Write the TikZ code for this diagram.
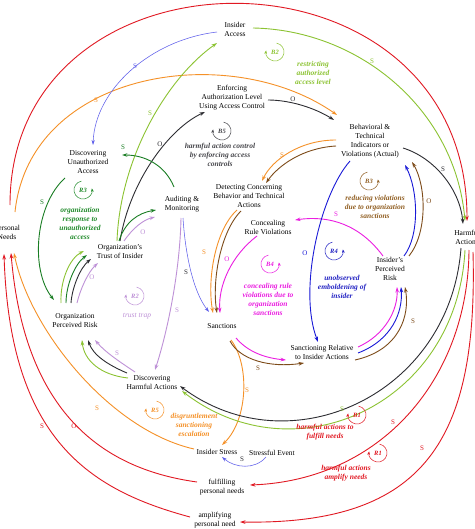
\documentclass[tikz,border=0pt]{standalone}
\usepackage{fontspec}
\setmainfont{Liberation Serif}
\usetikzlibrary{arrows.meta}
\definecolor{cred}{RGB}{225,25,35}
\definecolor{corange}{RGB}{245,145,40}
\definecolor{cbrown}{RGB}{125,75,25}
\definecolor{cbrowntxt}{RGB}{145,95,35}
\definecolor{cgray}{RGB}{45,45,50}
\definecolor{cgraytxt}{RGB}{70,70,75}
\definecolor{clgreen}{RGB}{140,195,50}
\definecolor{cdgreen}{RGB}{25,125,35}
\definecolor{cdgreentxt}{RGB}{35,140,45}
\definecolor{cpurple}{RGB}{190,145,215}
\definecolor{cmag}{RGB}{235,30,225}
\definecolor{cblue}{RGB}{25,25,215}
\definecolor{cbluetxt}{RGB}{35,35,195}
\definecolor{cthinblue}{RGB}{95,95,235}
\tikzset{
  nd/.style={font=\fontsize{7.5}{9}\selectfont, align=center, inner sep=1pt},
  ds/.style={font=\fontsize{7.5}{9}\selectfont\bfseries\itshape, align=center, inner sep=0pt},
  pl/.style={font=\fontsize{7}{8}\selectfont, inner sep=0pt},
  lp/.style={font=\fontsize{6.5}{7}\selectfont\bfseries\itshape, inner sep=0pt},
  ar/.style={line width=0.9pt, -{Stealth[length=5.5pt,width=3.6pt]}},
  tar/.style={line width=0.55pt, -{Stealth[length=5pt,width=3.2pt]}},
  lsym/.style={line width=0.5pt, -{Stealth[length=3.5pt,width=2.8pt]}},
}
\begin{document}
\begin{tikzpicture}[x=1pt,y=-1pt]
\useasboundingbox (0,0) rectangle (474,529);
\clip (0,0) rectangle (474,529);
\fill[white] (0,0) rectangle (474,529);
% ---------- nodes ----------
\node[nd] (acc) at (235,29) {Insider\\Access};
\node[nd] (enf) at (232,98) {Enforcing\\Authorization Level\\Using Access Control};
\node[nd] (beh) at (370,141) {Behavioral \&\\Technical\\Indicators or\\Violations (Actual)};
\node[nd] (dua) at (88,162) {Discovering\\Unauthorized\\Access};
\node[nd] (aud) at (182,204) {Auditing \&\\Monitoring};
\node[nd] (trust) at (120,252) {Organization's\\Trust of Insider};
\node[nd] (det) at (249,196) {Detecting Concerning\\Behavior and Technical\\Actions};
\node[nd] (con) at (268,227) {Concealing\\Rule Violations};
\node[nd] (ipr) at (390,269) {Insider's\\Perceived\\Risk};
\node[nd] (harm) at (467,237) {Harmful\\Actions};
\node[nd] (pn) at (7,232) {Personal\\Needs};
\node[nd] (opr) at (75,321) {Organization\\Perceived Risk};
\node[nd] (san) at (222,326) {Sanctions};
\node[nd] (srel) at (322,352) {Sanctioning Relative\\to Insider Actions};
\node[nd] (dha) at (152,383) {Discovering\\Harmful Actions};
\node[nd] (ist) at (217,452) {Insider Stress};
\node[nd] (se) at (272,453) {Stressful Event};
\node[nd] (fpn) at (222,487) {fulfilling\\personal needs};
\node[nd] (apn) at (215,520) {amplifying\\personal need};
% ---------- red ----------
\draw[ar,cred] ([shift={(3,-27)}]pn.center) .. controls (10,-66) and (467,-66) .. ([shift={(0,-16)}]harm.center);
\draw[ar,cred] ([shift={(2,13)}]harm.center) .. controls (468,380) and (380,480) .. ([shift={(28,-2)}]fpn.center);
\draw[ar,cred] ([shift={(6,15)}]harm.center) .. controls (478,440) and (425,525) .. ([shift={(25,2)}]apn.center);
\draw[ar,cred] ([shift={(-25,-5)}]fpn.center) .. controls (110,470) and (25,420) .. ([shift={(4,21)}]pn.center);
\draw[ar,cred] ([shift={(-25,-3)}]apn.center) .. controls (90,490) and (10,440) .. ([shift={(-3,22)}]pn.center);
% ---------- orange / brown ----------
\draw[ar,corange] ([shift={(-23,-3)}]ist.center) .. controls (110,430) and (30,330) .. ([shift={(7,21)}]pn.center);
\draw[ar,corange] ([shift={(8,-20)}]pn.center) .. controls (30,70) and (230,40) .. ([shift={(-33,-26)}]beh.center);
\draw[ar,corange] ([shift={(-34,-1)}]beh.center) .. controls (300,140) and (272,160) .. ([shift={(13,-15)}]det.center);
\draw[ar,cbrown] ([shift={(-34,5)}]beh.center) .. controls (302,148) and (278,166) .. ([shift={(17,-13)}]det.center);
\draw[ar,corange] ([shift={(-12,14)}]det.center) .. controls (215,230) and (207,280) .. ([shift={(-9,-13)}]san.center);
\draw[ar,cbrown] ([shift={(-8,15)}]det.center) .. controls (220,232) and (212,282) .. ([shift={(-5,-13)}]san.center);
\draw[ar,corange] ([shift={(9,14)}]san.center) .. controls (250,365) and (248,420) .. ([shift={(5,-7)}]ist.center);
\draw[ar,cbrown] ([shift={(8,15)}]san.center) .. controls (240,360) and (270,368) .. ([shift={(-18,11)}]srel.center);
\draw[ar,cmag] ([shift={(14,12)}]san.center) .. controls (248,352) and (265,358) .. ([shift={(-36,8)}]srel.center);
% ---------- magenta / blue ----------
\draw[ar,cmag] ([shift={(-11,9)}]con.center) .. controls (232,255) and (218,285) .. ([shift={(-2,-13)}]san.center);
\draw[tar,cthinblue] ([shift={(1,14)}]aud.center) .. controls (185,250) and (192,290) .. ([shift={(-13,-14)}]san.center);
\draw[ar,cpurple] ([shift={(-1,14)}]aud.center) .. controls (180,270) and (168,330) .. ([shift={(3,-13)}]dha.center);
\draw[ar,cmag] ([shift={(36,-5)}]srel.center) .. controls (385,335) and (398,310) .. ([shift={(7,18)}]ipr.center);
\draw[ar,cblue] ([shift={(36,1)}]srel.center) .. controls (392,340) and (403,312) .. ([shift={(11,18)}]ipr.center);
\draw[ar,cbrown] ([shift={(33,8)}]srel.center) .. controls (400,350) and (410,315) .. ([shift={(15,18)}]ipr.center);
\draw[ar,cblue] ([shift={(14,-13)}]ipr.center) .. controls (420,235) and (418,190) .. ([shift={(35,24)}]beh.center);
\draw[ar,cbrown] ([shift={(19,-13)}]ipr.center) .. controls (428,232) and (426,185) .. ([shift={(42,21)}]beh.center);
\draw[ar,cmag] ([shift={(-7,-13)}]ipr.center) .. controls (360,225) and (330,215) .. ([shift={(27,-7)}]con.center);
\draw[ar,cblue] ([shift={(-20,20)}]beh.center) .. controls (320,195) and (298,290) .. ([shift={(-4,-10)}]srel.center);
% ---------- dark gray / green ----------
\draw[ar,cgray] ([shift={(0,-11)}]trust.center) .. controls (130,180) and (170,128) .. ([shift={(-27,14)}]enf.center);
\draw[ar,cgray] ([shift={(36,2)}]enf.center) .. controls (290,100) and (315,108) .. ([shift={(-36,-21)}]beh.center);
\draw[ar,cgray] ([shift={(33,7)}]beh.center) .. controls (435,158) and (460,190) .. ([shift={(-4,-13)}]harm.center);
\draw[ar,cgray] ([shift={(-6,11)}]harm.center) .. controls (450,395) and (290,468) .. ([shift={(28,3)}]dha.center);
\draw[ar,clgreen] ([shift={(-2,13)}]harm.center) .. controls (457,405) and (295,478) .. ([shift={(30,8)}]dha.center);
\draw[ar,clgreen] ([shift={(-24,-5)}]dha.center) .. controls (100,375) and (84,360) .. ([shift={(7,19)}]opr.center);
\draw[ar,cgray] ([shift={(-25,-10)}]dha.center) .. controls (108,365) and (93,355) .. ([shift={(13,19)}]opr.center);
\draw[ar,cpurple] ([shift={(-17,-11)}]dha.center) .. controls (120,362) and (105,352) .. ([shift={(20,19)}]opr.center);
\draw[ar,clgreen] ([shift={(-14,-18)}]opr.center) .. controls (60,280) and (70,258) .. ([shift={(-36,-1)}]trust.center);
\draw[ar,cdgreen] ([shift={(-9,-18)}]opr.center) .. controls (66,285) and (75,264) .. ([shift={(-33,3)}]trust.center);
\draw[ar,cgray] ([shift={(-4,-18)}]opr.center) .. controls (72,288) and (80,268) .. ([shift={(-29,7)}]trust.center);
\draw[ar,cpurple] ([shift={(2,-18)}]opr.center) .. controls (80,290) and (88,272) .. ([shift={(-22,11)}]trust.center);
\draw[ar,clgreen] ([shift={(-3,-11)}]trust.center) .. controls (120,160) and (165,80) .. ([shift={(-18,14)}]acc.center);
\draw[ar,cdgreen] ([shift={(-1,-11)}]trust.center) .. controls (125,222) and (138,213) .. ([shift={(-26,6)}]aud.center);
\draw[ar,cpurple] ([shift={(4,-11)}]trust.center) .. controls (133,228) and (143,220) .. ([shift={(-27,13)}]aud.center);
\draw[ar,cdgreen] ([shift={(-8,-17)}]aud.center) .. controls (165,165) and (145,155) .. ([shift={(34,-7)}]dua.center);
\draw[ar,cdgreen] ([shift={(-23,16)}]dua.center) .. controls (35,205) and (30,270) .. ([shift={(-21,-21)}]opr.center);
\draw[tar,cthinblue] ([shift={(-18,3)}]acc.center) .. controls (150,40) and (95,90) .. ([shift={(5,-17)}]dua.center);
\draw[ar,clgreen] ([shift={(18,-1)}]acc.center) .. controls (360,30) and (455,110) .. ([shift={(-2,-16)}]harm.center);
\draw[tar,cthinblue] ([shift={(-6,4)}]se.center) .. controls (255,470) and (235,468) .. ([shift={(5,5)}]ist.center);
% ---------- polarity labels ----------
\node[pl,cthinblue] (p1) at (135,66) {S};
\node[pl,corange] (p2) at (96,100) {S};
\node[pl,clgreen] (p3) at (150,113) {S};
\node[pl,cgray] (p4) at (160,144) {O};
\node[pl,cdgreen] (p5) at (123,147) {S};
\node[pl,cgray] (p6) at (293,99) {O};
\node[pl,clgreen] (p7) at (372,61) {S};
\node[pl,corange] (p8) at (282,155) {S};
\node[pl,cgray] (p9) at (443,169) {S};
\node[pl,cdgreen] (p10) at (42,202) {S};
\node[pl,cpurple] (p11) at (143,232) {O};
\node[pl,cpurple] (p12) at (92,277) {O};
\node[pl,corange] (p13) at (204,252) {S};
\node[pl,cmag] (p14) at (227,259) {O};
\node[pl,cgray] (p15) at (186,272) {S};
\node[pl,cpurple] (p16) at (177,310) {S};
\node[pl,cmag] (p17) at (336,214) {S};
\node[pl,cbrown] (p18) at (429,201) {O};
\node[pl,cblue] (p19) at (305,253) {O};
\node[pl,cbrown] (p20) at (413,321) {S};
\node[pl,cbrown] (p21) at (258,368) {S};
\node[pl,corange] (p22) at (247,390) {S};
\node[pl,cpurple] (p23) at (117,353) {S};
\node[pl,corange] (p24) at (97,408) {S};
\node[pl,cred] (p25) at (42,426) {S};
\node[pl,cred] (p26) at (74,426) {O};
\node[pl,cred] (p27) at (393,422) {S};
\node[pl,cred] (p28) at (422,448) {S};
\node[pl,clgreen] (p29) at (342,409) {S};
\node[pl,cgray] (p30) at (242,459) {S};
% ---------- loop symbols ----------
\node[lp,cgraytxt] (b5) at (222,131) {B5};
\draw[lsym,cgraytxt] (b5.center) ++(-80:9) arc[start angle=-80,end angle=190,radius=9];
\node[lp,clgreen] (b2) at (275,52) {B2};
\draw[lsym,clgreen] (b2.center) ++(-80:9) arc[start angle=-80,end angle=190,radius=9];
\node[lp,cdgreentxt] (r3) at (83,190) {R3};
\draw[lsym,cdgreentxt] (r3.center) ++(-100:9) arc[start angle=-100,end angle=-370,radius=9];
\node[lp,cpurple] (r2) at (135,296) {R2};
\draw[lsym,cpurple] (r2.center) ++(-80:9) arc[start angle=-80,end angle=190,radius=9];
\node[lp,cmag] (b4) at (270,264) {B4};
\draw[lsym,cmag] (b4.center) ++(-100:9) arc[start angle=-100,end angle=-370,radius=9];
\node[lp,cbluetxt] (r4) at (334,251) {R4};
\draw[lsym,cbluetxt] (r4.center) ++(-100:9) arc[start angle=-100,end angle=-370,radius=9];
\node[lp,cbrowntxt] (b3) at (369,181) {B3};
\draw[lsym,cbrowntxt] (b3.center) ++(-100:9) arc[start angle=-100,end angle=-370,radius=9];
\node[lp,corange] (r5) at (155,410) {R5};
\draw[lsym,corange] (r5.center) ++(-80:9) arc[start angle=-80,end angle=190,radius=9];
\node[lp,cred] (b1) at (357,415) {B1};
\draw[lsym,cred] (b1.center) ++(-80:9) arc[start angle=-80,end angle=190,radius=9];
\node[lp,cred] (r1) at (378,453) {R1};
\draw[lsym,cred] (r1.center) ++(-80:9) arc[start angle=-80,end angle=190,radius=9];
% ---------- loop descriptions ----------
\node[ds,cgraytxt] (d5) at (220,155) {harmful action control\\by enforcing access\\controls};
\node[ds,clgreen] (d2) at (313,73) {restricting\\authorized\\access level};
\node[ds,cdgreentxt] (d3) at (80,223) {organization\\response to\\unauthorized\\access};
\node[font=\fontsize{7.5}{9}\selectfont\itshape, inner sep=0pt, cpurple] (dr2) at (137,316) {trust trap};
\node[ds,cmag] (d4) at (268,299) {concealing rule\\violations due to\\organization\\sanctions};
\node[ds,cbluetxt] (dr4) at (342,287) {unobserved\\emboldening of\\insider};
\node[ds,cbrowntxt] (db3) at (375,207) {reducing violations\\due to organization\\sanctions};
\node[ds,corange] (dr5) at (194,425) {disgruntlement\\sanctioning\\escalation};
\node[ds,cred] (db1) at (325,432) {harmful actions to\\fulfill needs};
\node[ds,cred] (dr1) at (346,473) {harmful actions\\amplify needs};
\end{tikzpicture}
\end{document}
